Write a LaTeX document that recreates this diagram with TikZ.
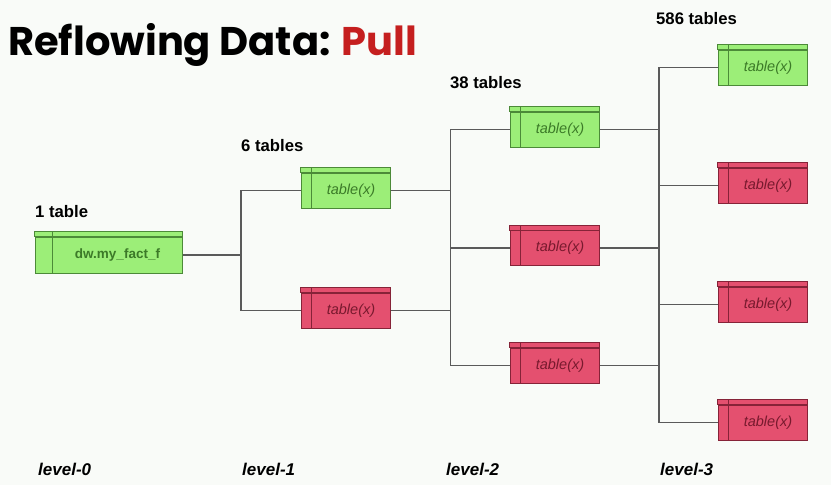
\documentclass[tikz,border=0pt]{standalone}
\usepackage{fontspec}
\setmainfont{Liberation Sans}
\newfontfamily\headfont{Poppins}
\definecolor{pagebg}{HTML}{F9FBF8}
\definecolor{linegray}{HTML}{5A5A5A}
\definecolor{gfill}{HTML}{9CEE78}
\definecolor{gedge}{HTML}{4C8A38}
\definecolor{gtext}{HTML}{3C7A28}
\definecolor{rfill}{HTML}{E4506F}
\definecolor{redge}{HTML}{862338}
\definecolor{rtext}{HTML}{781A2E}
\definecolor{titlered}{HTML}{C51F1F}
% table name, set right of the key column
\newcommand{\tblname}[1]{\hspace*{11pt}#1}
\begin{document}
\begin{tikzpicture}[x=1pt,y=-1pt,
  tblbox/.style={rectangle, draw, line width=1pt, inner sep=0pt,
    minimum width=89pt, minimum height=35pt,
    font=\fontsize{14.5}{16}\selectfont\itshape},
  gtbl/.style={tblbox, fill=gfill, draw=gedge, text=gtext},
  rtbl/.style={tblbox, fill=rfill, draw=redge, text=rtext},
  link/.style={draw=linegray, line width=1.3pt},
  count/.style={anchor=base west, inner sep=0pt, font=\fontsize{16.7}{18}\selectfont\bfseries},
  levellbl/.style={anchor=base west, inner sep=0pt, font=\fontsize{17}{19}\selectfont\bfseries\itshape}]
\fill[pagebg] (0,0) rectangle (831,485);
\useasboundingbox (0,0) rectangle (831,485);

% heading
\node[anchor=base west, inner sep=0pt, font=\headfont\fontsize{40}{44}\selectfont\bfseries]
  (title) at (8,55) {Reflowing Data: \textcolor{titlered}{Pull}};

% tables, body part (header strip drawn afterwards)
\node[gtbl, minimum width=147pt, minimum height=36pt,
  font=\fontsize{13.5}{15}\selectfont\bfseries] (r0) at (108.5,255) {\hspace*{18pt}dw.my\_fact\_f};
\node[gtbl] (a1) at (345.5,190.5) {\tblname{table(x)}};
\node[rtbl] (a2) at (345.5,310.5) {\tblname{table(x)}};
\node[gtbl] (b1) at (554.5,129.5) {\tblname{table(x)}};
\node[rtbl] (b2) at (554.5,248) {\tblname{table(x)}};
\node[rtbl] (b3) at (554.5,365.5) {\tblname{table(x)}};
\node[gtbl] (c1) at (762.5,67.5) {\tblname{table(x)}};
\node[rtbl] (c2) at (762.5,185.5) {\tblname{table(x)}};
\node[rtbl] (c3) at (762.5,304.5) {\tblname{table(x)}};
\node[rtbl] (c4) at (762.5,422.5) {\tblname{table(x)}};

% header strip and key column of each table
\foreach \n/\f/\e/\k in {r0/gfill/gedge/18, a1/gfill/gedge/11, b1/gfill/gedge/11, c1/gfill/gedge/11,
                         a2/rfill/redge/11, b2/rfill/redge/11, b3/rfill/redge/11,
                         c2/rfill/redge/11, c3/rfill/redge/11, c4/rfill/redge/11}{
  \draw[fill=\f, draw=\e, line width=1pt] (\n.north west) rectangle ([yshift=5pt]\n.north east);
  \draw[draw=\e, line width=1pt] ([xshift=\k pt,yshift=5pt]\n.north west) -- ([xshift=\k pt]\n.south west);
}

% junction columns
\coordinate (j0) at (241,250);
\coordinate (j1) at (450.5,250);
\coordinate (j2) at (659,250);

% level 0 -> 1
\draw[link] (r0.east) -- (r0.east -| j0);
\draw[link] (a1.west) -| (j0) |- (a2.west);
% level 1 -> 2
\draw[link] (a1.east) -- (a1.east -| j1);
\draw[link] (a2.east) -- (a2.east -| j1);
\draw[link] (b1.west) -| (j1) |- (b3.west);
\draw[link] (b2.west) -- (b2.west -| j1);
% level 2 -> 3
\draw[link] (b1.east) -- (b1.east -| j2);
\draw[link] (b2.east) -- (b2.east -| j2);
\draw[link] (b3.east) -- (b3.east -| j2);
\draw[link] (c1.west) -| (j2) |- (c4.west);
\draw[link] (c2.west) -- (c2.west -| j2);
\draw[link] (c3.west) -- (c3.west -| j2);

% table counts
\node[count] (n0) at (35,217) {1 table};
\node[count] (n1) at (241,151) {6 tables};
\node[count] (n2) at (450,88) {38 tables};
\node[count] (n3) at (656,24) {586 tables};

% level captions
\node[levellbl] (l0) at (38,475) {level-0};
\node[levellbl] (l1) at (242,475) {level-1};
\node[levellbl] (l2) at (446,475) {level-2};
\node[levellbl] (l3) at (660,475) {level-3};
\end{tikzpicture}
\end{document}
